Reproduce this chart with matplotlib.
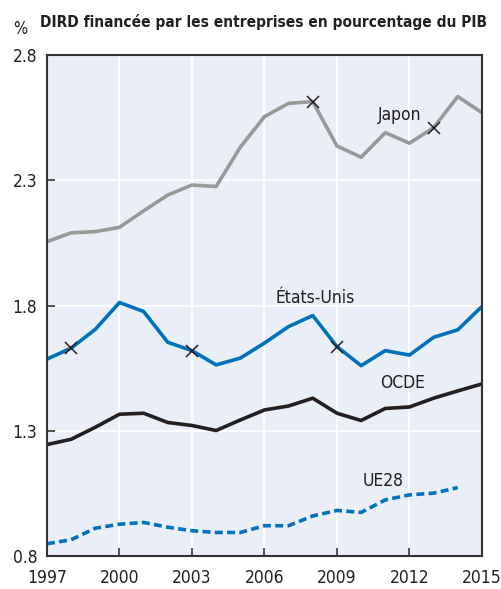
import matplotlib
matplotlib.use("Agg")
import matplotlib.pyplot as plt

plt.rcParams['font.family'] = ['DejaVu Sans']
plt.rcParams['font.stretch'] = 'condensed'

years = list(range(1997, 2016))
japon = [2.055, 2.09, 2.095, 2.112, 2.178, 2.241, 2.281, 2.275, 2.432, 2.554,
         2.607, 2.614, 2.437, 2.392, 2.49, 2.448, 2.51, 2.634, 2.57]
etats_unis = [1.586, 1.63, 1.705, 1.812, 1.776, 1.653, 1.62, 1.563, 1.59, 1.65,
              1.716, 1.76, 1.636, 1.56, 1.62, 1.602, 1.673, 1.703, 1.796]
ocde = [1.245, 1.266, 1.314, 1.366, 1.370, 1.333, 1.321, 1.301, 1.343, 1.383,
        1.399, 1.43, 1.37, 1.341, 1.389, 1.395, 1.43, 1.459, 1.487]
ue28_years = list(range(1997, 2015))
ue28 = [0.849, 0.865, 0.911, 0.927, 0.934, 0.915, 0.901, 0.894, 0.894, 0.921,
        0.921, 0.96, 0.982, 0.974, 1.024, 1.044, 1.051, 1.073]

# years carrying a cross marker
japon_marks = [2008, 2013]
us_marks = [1998, 2003, 2009]

xticks = [1997, 2000, 2003, 2006, 2009, 2012, 2015]
yticks = [0.8, 1.3, 1.8, 2.3, 2.8]

GRAY = '#999999'
BLUE = '#0072bc'
BLACK = '#231f20'

fig = plt.figure(figsize=(5.02, 5.89), dpi=100)
ax = fig.add_axes([0.0936, 0.056, 0.8664, 0.8506])
ax.set_facecolor('#e9eef7')

ax.plot(years, japon, color=GRAY, lw=2.6)
ax.plot(years, etats_unis, color=BLUE, lw=2.6)
ax.plot(years, ocde, color=BLACK, lw=2.6)
ax.plot(ue28_years, ue28, color=BLUE, lw=2.6, ls=(0, (2.2, 1.2)))

ax.plot(japon_marks, [japon[years.index(y)] for y in japon_marks],
        ls='none', marker='x', ms=9, mew=1.1, color=BLACK)
ax.plot(us_marks, [etats_unis[years.index(y)] for y in us_marks],
        ls='none', marker='x', ms=9, mew=1.1, color=BLACK)

lbl = dict(fontsize=12.5, color='#231f20', ha='center', va='center')
ax.text(2011.6, 2.56, 'Japon', **lbl)
ax.text(2008.1, 1.83, 'États-Unis', **lbl)
ax.text(2011.7, 1.49, 'OCDE', **lbl)
ax.text(2010.9, 1.1, 'UE28', **lbl)

ax.set_xlim(1997, 2015)
ax.set_ylim(0.8, 2.8)
ax.set_xticks(xticks)
ax.set_yticks(yticks)
ax.set_yticklabels([f'{v:.1f}' for v in yticks])
ax.grid(True, color='white', lw=1.2)
ax.set_axisbelow(True)
ax.tick_params(direction='in', length=6, width=1.2, color='#333333',
               labelsize=12.5, labelcolor='#231f20')
ax.tick_params(axis='x', pad=9)
ax.tick_params(axis='y', pad=7)
for s in ax.spines.values():
    s.set_color('#333333')
    s.set_linewidth(1.5)

fig.text(0.08, 0.963, 'DIRD financée par les entreprises en pourcentage du PIB',
         fontsize=11.1, fontweight='bold', color='#231f20', va='center')
fig.text(0.026, 0.951, '%', fontsize=12, color='#231f20', va='center')

fig.savefig('out.png', dpi=100)
